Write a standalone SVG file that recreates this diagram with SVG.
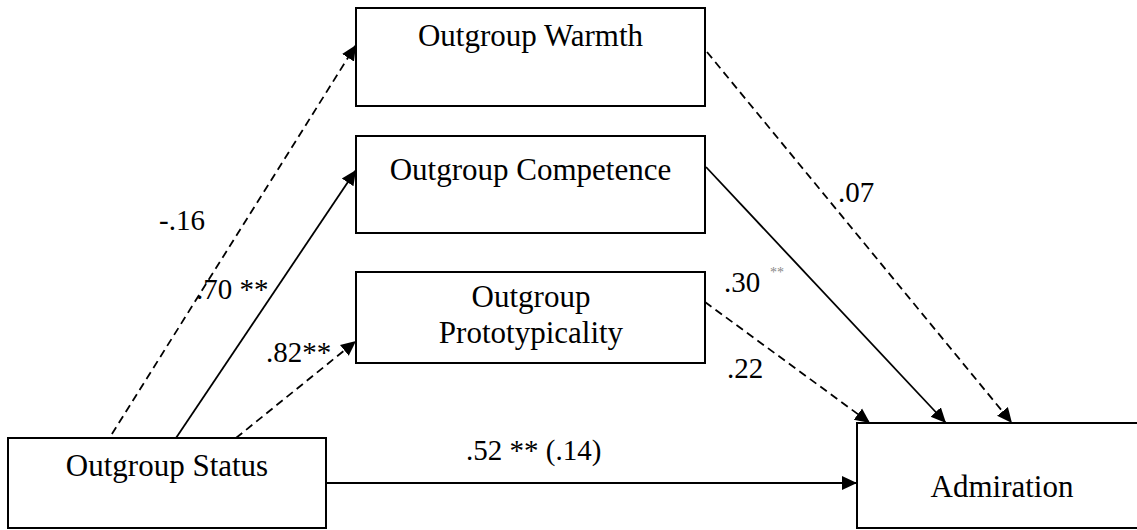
<svg xmlns="http://www.w3.org/2000/svg" width="1137" height="530" viewBox="0 0 1137 530">
<style>
.box{fill:#fff;stroke:#000;stroke-width:2}
.node{font-family:'Liberation Serif','DejaVu Serif',serif;font-size:31px;fill:#000;text-anchor:middle}
.lbl{font-family:'Liberation Serif','DejaVu Serif',serif;font-size:29px;fill:#000}
.sup{font-family:'Liberation Serif','DejaVu Serif',serif;font-size:14px;fill:#888}
.c{fill:none;stroke:#000;stroke-width:1.8}
.d{stroke-dasharray:8 5}
</style>
<defs>
<marker id="ah" markerUnits="userSpaceOnUse" markerWidth="16" markerHeight="16" viewBox="0 0 16 16" refX="15" refY="8" orient="auto">
<path d="M0,1 L15,8 L0,15 Z" fill="#000"/>
</marker>
</defs>
<rect width="1137" height="530" fill="#fff"/>
<g id="connectors">
<line class="c d" x1="105" y1="445" x2="356" y2="45" marker-end="url(#ah)"/>
<line class="c" x1="176" y1="438" x2="356" y2="170" marker-end="url(#ah)"/>
<line class="c d" x1="236" y1="438" x2="356" y2="341" marker-end="url(#ah)"/>
<line class="c" x1="326" y1="483" x2="857" y2="483" marker-end="url(#ah)"/>
<line class="c d" x1="707" y1="52" x2="1012" y2="423" marker-end="url(#ah)"/>
<line class="c" x1="706" y1="167" x2="946" y2="423" marker-end="url(#ah)"/>
<line class="c d" x1="705" y1="302" x2="870" y2="423" marker-end="url(#ah)"/>
</g>
<g id="warmth">
<rect class="box" x="356" y="8" width="349" height="98"/>
<text class="node" x="530.5" y="46" font-family="Liberation Serif, serif">Outgroup Warmth</text>
</g>
<g id="competence">
<rect class="box" x="356" y="136" width="349" height="97"/>
<text class="node" x="530.5" y="180">Outgroup Competence</text>
</g>
<g id="prototypicality">
<rect class="box" x="356" y="272" width="349" height="91"/>
<text class="node" x="531" y="307">Outgroup</text>
<text class="node" x="531" y="343">Prototypicality</text>
</g>
<g id="status">
<rect class="box" x="8" y="438" width="318" height="90"/>
<text class="node" x="167" y="476">Outgroup Status</text>
</g>
<g id="admiration">
<path class="box" d="M1140,423 H857 V528 H1140"/>
<text class="node" x="1002" y="497">Admiration</text>
</g>
<g id="labels">
<text class="lbl" x="159" y="230">-.16</text>
<text class="lbl" x="196" y="299">.70 **</text>
<text class="lbl" x="266" y="362">.82**</text>
<text class="lbl" x="466" y="460">.52 ** (.14)</text>
<text class="lbl" x="838" y="202">.07</text>
<text class="lbl" x="724" y="292">.30</text>
<text class="sup" x="770" y="277">**</text>
<text class="lbl" x="727" y="378">.22</text>
</g>
</svg>
